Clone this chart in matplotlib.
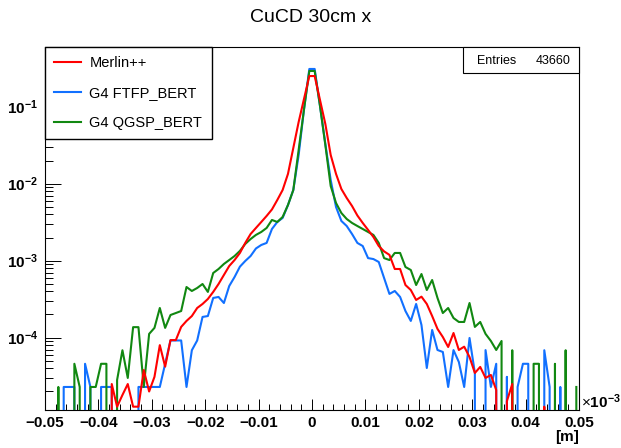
import matplotlib
matplotlib.use("Agg")
import matplotlib.pyplot as plt
import numpy as np
from matplotlib.patches import Rectangle
from matplotlib.ticker import FixedLocator, FuncFormatter, NullFormatter

plt.rcParams['font.family'] = ['Liberation Sans', 'DejaVu Sans']
plt.rcParams['mathtext.fontset'] = 'custom'
plt.rcParams['mathtext.rm'] = 'Liberation Sans'
plt.rcParams['mathtext.bf'] = 'Liberation Sans:bold'
plt.rcParams['mathtext.it'] = 'Liberation Sans:italic'

# ---------------- data ----------------
title = "CuCD 30cm x"
x_label = "[m]"
entries = 43660
n_bins = 100
x_min, x_max = -0.05, 0.05
bin_edges = np.linspace(x_min, x_max, n_bins + 1)
bin_centers = 0.5 * (bin_edges[:-1] + bin_edges[1:])

series_names = ["Merlin++", "G4 FTFP_BERT", "G4 QGSP_BERT"]

merlin = [
    0, 0, 0, 0, 0, 0, 0, 0, 0, 0, 0, 0,
    2.5e-5, 1.27e-5, 1.8e-5, 2.5e-5, 1.27e-5, 1.27e-5, 3.8e-5, 2.0e-5, 3.1e-5, 8.0e-5,
    4.2e-5, 9.3e-5, 9.3e-5, 1.38e-4, 1.65e-4, 1.91e-4, 2.43e-4, 2.74e-4, 3.18e-4, 3.93e-4,
    4.98e-4, 6.52e-4, 8.53e-4, 1.02e-3, 1.26e-3, 1.70e-3, 2.22e-3, 2.66e-3, 3.18e-3, 3.81e-3,
    4.63e-3, 6.14e-3, 8.28e-3, 1.34e-2, 2.91e-2, 6.33e-2, 0.126, 0.25,
    0.25, 0.122, 5.96e-2, 2.36e-2, 1.34e-2, 8.53e-3, 6.52e-3, 5.13e-3, 3.86e-3, 3.09e-3,
    2.51e-3, 2.03e-3, 1.55e-3, 1.32e-3, 1.19e-3, 7.8e-4, 7.8e-4, 4.83e-4, 4.16e-4, 3.09e-4,
    3.41e-4, 2.74e-4, 1.91e-4, 1.30e-4, 1.02e-4, 7.57e-5, 1.15e-4, 6.92e-5, 7.64e-5, 5.61e-5,
    3.48e-5, 4.17e-5, 3.0e-5, 3.28e-5, 2.09e-5, 0, 1.5e-5, 2.5e-5,
    0, 0, 0, 0, 0, 1.27e-5, 0, 0, 0, 0, 0, 0,
]

ftfp = [
    0, 0, 0, 2.29e-5, 2.29e-5, 2.29e-5, 0, 4.58e-5, 2.29e-5, 0,
    2.29e-5, 2.29e-5, 2.29e-5, 0, 0, 0, 0, 2.29e-5, 2.29e-5, 2.29e-5,
    2.29e-5, 2.29e-5, 4.58e-5, 9.2e-5, 9.2e-5, 9.2e-5, 2.29e-5, 6.87e-5, 9.2e-5, 1.86e-4,
    1.91e-4, 3.28e-4, 3.38e-4, 2.82e-4, 4.69e-4, 6.14e-4, 8.36e-4, 9.91e-4, 1.15e-3, 1.44e-3,
    1.60e-3, 1.70e-3, 2.58e-3, 3.18e-3, 3.59e-3, 5.28e-3, 8.28e-3, 2.36e-2, 9.2e-2, 0.309,
    0.309, 0.102, 3.28e-2, 1.12e-2, 4.98e-3, 3.28e-3, 2.82e-3, 2.22e-3, 1.70e-3, 1.55e-3,
    1.08e-3, 1.05e-3, 9.62e-4, 5.96e-4, 3.70e-4, 4.04e-4, 3.38e-4, 2.22e-4, 1.65e-4, 2.74e-4,
    1.46e-4, 4.04e-5, 1.26e-4, 6.92e-5, 6.52e-5, 2.29e-5, 6.9e-5, 4.83e-5, 2.29e-5, 9.91e-5,
    3.48e-5, 0, 6.9e-5, 2.29e-5, 4.58e-5, 0, 3.1e-5, 0, 2.29e-5, 4.58e-5,
    4.58e-5, 0, 0, 6.87e-5, 2.29e-5, 0, 2.29e-5, 0, 0, 0,
]

qgsp = [
    0, 0, 2.29e-5, 0, 0, 4.58e-5, 2.29e-5, 0, 2.29e-5, 2.29e-5,
    4.58e-5, 4.58e-5, 0, 2.82e-5, 6.87e-5, 3.0e-5, 1.37e-4, 1.37e-4, 2.29e-5, 1.12e-4,
    1.34e-4, 2.43e-4, 1.34e-4, 1.97e-4, 2.09e-4, 2.22e-4, 4.55e-4, 4.04e-4, 4.42e-4, 4.98e-4,
    3.93e-4, 6.92e-4, 7.80e-4, 9.06e-4, 1.02e-3, 1.15e-3, 1.34e-3, 1.65e-3, 1.91e-3, 2.16e-3,
    2.36e-3, 2.66e-3, 3.38e-3, 3.18e-3, 3.70e-3, 5.28e-3, 8.28e-3, 2.74e-2, 9.2e-2, 0.291,
    0.291, 0.102, 3.18e-2, 9.33e-3, 5.61e-3, 4.16e-3, 3.48e-3, 3.09e-3, 2.82e-3, 2.58e-3,
    2.36e-3, 2.16e-3, 1.70e-3, 1.08e-3, 1.02e-3, 1.26e-3, 1.26e-3, 8.28e-4, 7.57e-4, 4.83e-4,
    6.71e-4, 4.16e-4, 5.61e-4, 3.28e-4, 2.09e-4, 2.43e-4, 1.80e-4, 1.60e-4, 1.60e-4, 2.82e-4,
    1.38e-4, 1.60e-4, 1.12e-4, 9.06e-5, 6.92e-5, 9.06e-5, 0, 6.87e-5, 0, 0,
    0, 4.58e-5, 4.58e-5, 0, 0, 4.58e-5, 0, 6.87e-5, 0, 2.29e-5,
]

x_ticks = [-0.05, -0.04, -0.03, -0.02, -0.01, 0.0, 0.01, 0.02, 0.03, 0.04, 0.05]
y_major = [1e-4, 1e-3, 1e-2, 1e-1]
y_min, y_max = 1.15e-5, 0.596

# ---------------- figure ----------------
W, H = 621, 448
fig = plt.figure(figsize=(W / 100, H / 100), dpi=100)
fig.patch.set_facecolor("white")
ax = fig.add_axes([45 / W, 1 - 410 / H, 534 / W, 363 / H])

c_red = "#ff0000"
c_blue = "#1170ff"
c_green = "#118811"

l_blue, = ax.plot(bin_centers, ftfp, color=c_blue, lw=1.5, zorder=3)
l_green, = ax.plot(bin_centers, qgsp, color=c_green, lw=1.5, zorder=4)
l_red, = ax.plot(bin_centers, merlin, color=c_red, lw=1.5, zorder=5)

ax.set_yscale("log", nonpositive="clip")
ax.set_xlim(x_min, x_max)
ax.set_ylim(y_min, y_max)

# x ticks
ax.xaxis.set_major_locator(FixedLocator(x_ticks))
ax.xaxis.set_minor_locator(FixedLocator(np.round(np.arange(-0.05, 0.0501, 0.002), 4)))
ax.xaxis.set_major_formatter(FuncFormatter(lambda v, p: ("%g" % v).replace("-", "\u2212")))
ax.tick_params(axis="x", which="major", direction="in", length=8, width=0.7,
               top=False, bottom=True, labelsize=11, pad=4)
ax.tick_params(axis="x", which="minor", direction="in", length=4, width=0.7,
               top=False, bottom=True)

# y ticks
ax.yaxis.set_major_locator(FixedLocator(y_major))
minor_y = [m * 10.0 ** e for e in range(-5, 0) for m in range(2, 10)]
ax.yaxis.set_minor_locator(FixedLocator(minor_y))
ax.yaxis.set_minor_formatter(NullFormatter())
ax.yaxis.set_major_formatter(FuncFormatter(
    lambda v, p: r"$\mathbf{10^{%d}}$" % int(round(np.log10(v)))))
ax.tick_params(axis="y", which="major", direction="in", length=11.5, width=0.7,
               left=True, right=False, labelsize=11, pad=5)
ax.tick_params(axis="y", which="minor", direction="in", length=5.8, width=0.7,
               left=True, right=False)

for lbl in ax.get_xticklabels() + ax.get_yticklabels():
    lbl.set_fontweight("bold")

for sp in ax.spines.values():
    sp.set_linewidth(0.8)

# title and axis annotations
fig.text(0.5, 1 - 18 / H, title, ha="center", va="center", fontsize=14)
fig.text(579 / W, 1 - 437 / H, x_label, ha="right", va="center",
         fontsize=11, fontweight="bold")
fig.text(581 / W, 1 - 402 / H, r"$\times\mathbf{10^{-3}}$", ha="left", va="center",
         fontsize=11)

# legend
leg = ax.legend([l_red, l_blue, l_green], series_names, loc="upper left",
                bbox_to_anchor=(0, 0, 167 / 534, 1), mode="expand",
                borderaxespad=0, fancybox=False, edgecolor="black",
                framealpha=1, prop={"size": 10.5, "weight": "normal"},
                handlelength=1.9, handletextpad=0.55, labelspacing=1.12,
                borderpad=0.6)
leg.get_frame().set_linewidth(1.0)
leg.set_zorder(10)

# stats box
bx0, by0, bw, bh = 463, 47, 116, 26
sh = Rectangle(((bx0 + 1.2) / W, 1 - (by0 + bh + 1.2) / H), bw / W, bh / H,
               transform=fig.transFigure, facecolor="#333333", edgecolor="none",
               lw=0, zorder=9)
box = Rectangle((bx0 / W, 1 - (by0 + bh) / H), bw / W, bh / H,
                transform=fig.transFigure, facecolor="white", edgecolor="black",
                lw=0.8, zorder=10)
fig.add_artist(sh)
fig.add_artist(box)
fig.text(477 / W, 1 - 61 / H, "Entries", ha="left", va="center", fontsize=9, zorder=11)
fig.text(571 / W, 1 - 61 / H, str(entries), ha="right", va="center", fontsize=9, zorder=11)

fig.savefig("out.png", dpi=100, facecolor="white")
